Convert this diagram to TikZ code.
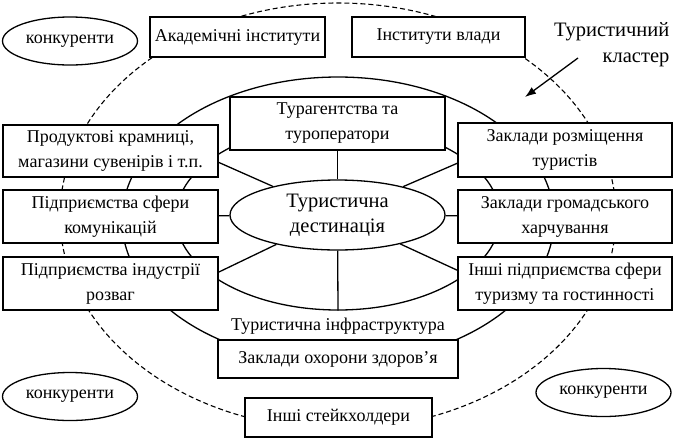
\documentclass[tikz,border=0pt]{standalone}
\usepackage{fontspec}
\setmainfont{Liberation Serif}
\usetikzlibrary{shapes.geometric,arrows.meta}

\newcommand*{\picw}{675}
\newcommand*{\pich}{440}

\begin{document}
\begin{tikzpicture}
[
	x=1pt,y=-1pt,
	line width=1.3pt,
	box/.style={draw,fill=white,inner sep=2pt,align=center,font=\fontsize{18}{25}\selectfont},
	rival/.style={ellipse,draw,fill=white,inner sep=0pt,minimum width=135pt,minimum height=48pt,font=\fontsize{18}{25}\selectfont},
	ring/.style={ellipse,draw,inner sep=0pt},
	bigtext/.style={align=center,font=\fontsize{20.5}{25}\selectfont}
]

	\useasboundingbox (0,0) rectangle (\picw,\pich);

	% rings
	\node[ring,line width=1.1pt,dash pattern=on 5pt off 3pt,minimum width=556pt,minimum height=426pt] (cluster) at (338,216) {};
	\node[ring,minimum width=432pt,minimum height=286pt] (infra) at (338,220) {};
	\node[ring,minimum width=324pt,minimum height=186pt] (mid) at (338,217) {};

	% outer boxes
	\node[box,minimum width=175pt,minimum height=40pt] (acad) at (237.5,37) {Академічні інститути};
	\node[box,minimum width=173pt,minimum height=40pt] (vlada) at (438.5,37) {Інститути влади};
	\node[rival] (rivalA) at (70,41) {конкуренти};
	\node[rival] (rivalB) at (70,396.5) {конкуренти};
	\node[rival] (rivalC) at (603.5,392.5) {конкуренти};

	% left column
	\node[box,minimum width=215pt,minimum height=52pt] (prod) at (110.5,151) {Продуктові крамниці,\\магазини сувенірів і т.п.};
	\node[box,minimum width=215pt,minimum height=53pt] (komun) at (110.5,216.5) {Підприємства сфери\\комунікацій};
	\node[box,minimum width=215pt,minimum height=53pt] (rozvag) at (110.5,283.5) {Підприємства індустрії\\розваг};

	% right column
	\node[box,minimum width=214pt,minimum height=54pt] (rozm) at (565,150) {Заклади розміщення\\туристів};
	\node[box,minimum width=214pt,minimum height=53pt] (harch) at (565,216.5) {Заклади громадського\\харчування};
	\node[box,minimum width=214pt,minimum height=53pt] (inshi) at (565,283.5) {Інші підприємства сфери\\туризму та гостинності};

	% middle
	\node[box,minimum width=215pt,minimum height=53pt] (turag) at (337.5,123.5) {Турагентства та\\туроператори};
	\node[ring,bigtext,fill=white,minimum width=215pt,minimum height=70pt] (dest) at (337.5,215) {Туристична\\дестинація};
	\node[font=\fontsize{18}{25}\selectfont] (infratext) at (338,326) {Туристична інфраструктура};
	\node[box,minimum width=240pt,minimum height=38pt] (zdorov) at (338,359) {Заклади охорони здоров’я};
	\node[box,minimum width=187pt,minimum height=39pt] (steik) at (338.5,417.5) {Інші стейкхолдери};

	% label and arrow
	\node[bigtext,align=right,anchor=north east,inner sep=0pt,font=\fontsize{20.5}{26}\selectfont] (clustertext) at (670,22) {Туристичний\\кластер};
	\coordinate (arrtail) at (578,58);
	\coordinate (arrhead) at (525,97);
	\draw[-{Latex[length=11pt,width=8pt]}] (arrtail) -- (arrhead);

	% links to the destination
	\draw (turag) -- (dest);
	\draw (dest) -- (mid.south);
	\draw (komun) -- (dest);
	\draw (dest) -- (harch);
	\draw (prod.-6) -- (dest);
	\draw (rozvag.6) -- (dest);
	\draw (rozm.187) -- (dest);
	\draw (inshi.173) -- (dest);

\end{tikzpicture}
\end{document}
